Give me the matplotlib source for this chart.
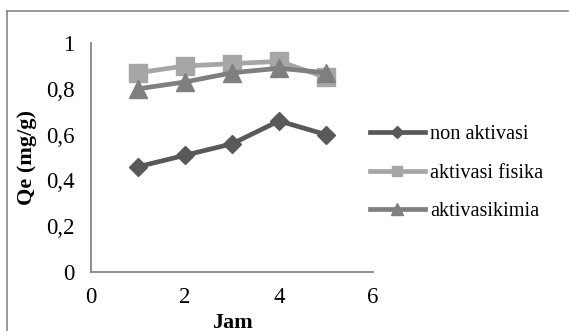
import matplotlib
matplotlib.use('Agg')
import matplotlib.pyplot as plt
from matplotlib.lines import Line2D
from matplotlib.ticker import FuncFormatter

jam = [1, 2, 3, 4, 5]
non_aktivasi = [0.46, 0.51, 0.56, 0.66, 0.60]
aktivasi_fisika = [0.87, 0.90, 0.91, 0.92, 0.85]
aktivasi_kimia = [0.80, 0.83, 0.87, 0.89, 0.87]

plt.rcParams['font.family'] = ['Liberation Serif', 'DejaVu Serif']

fig = plt.figure(figsize=(5.69, 3.31), dpi=100)
ax = fig.add_axes([0.160, 0.178, 0.4956, 0.692])

ax.plot(jam, non_aktivasi, color='#595959', lw=3.4, marker='D', ms=9.5,
        label='non aktivasi')
ax.plot(jam, aktivasi_fisika, color='#a6a6a6', lw=3.4, marker='s', ms=13,
        label='aktivasi fisika')
ax.plot(jam, aktivasi_kimia, color='#7f7f7f', lw=3.4, marker='^', ms=13.5,
        label='aktivasikimia')

ax.set_xlim(0, 6)
ax.set_ylim(0, 1)
ax.set_xticks([0, 2, 4, 6])
ax.set_yticks([0, 0.2, 0.4, 0.6, 0.8, 1])
fmt = FuncFormatter(lambda v, p: ('%g' % round(v, 1)).replace('.', ','))
ax.yaxis.set_major_formatter(fmt)
ax.tick_params(length=0, labelsize=16.5, colors='black')
ax.tick_params(axis='y', pad=12)
ax.tick_params(axis='x', pad=11)

for s in ['top', 'right']:
    ax.spines[s].set_visible(False)
for s in ['left', 'bottom']:
    ax.spines[s].set_color('#868686')
    ax.spines[s].set_linewidth(1.3)

ax.set_xlabel('Jam', fontsize=16, fontweight='bold', labelpad=3)
ax.set_ylabel('Qe (mg/g)', fontsize=16, fontweight='bold', labelpad=6)

fig.legend(*ax.get_legend_handles_labels(), loc='center left',
           bbox_to_anchor=(370 / 569, 1 - 173 / 331), frameon=False,
           fontsize=14.6, handlelength=2.7, handletextpad=0.25,
           labelspacing=0.95, borderpad=0, borderaxespad=0, markerscale=0.6)

# chart area border (top and left)
fig.add_artist(Line2D([7 / 569, 568 / 569], [1 - 11 / 331, 1 - 11 / 331],
                      transform=fig.transFigure, color='#868686', lw=1.2))
fig.add_artist(Line2D([7 / 569, 7 / 569], [1 - 11 / 331, 0],
                      transform=fig.transFigure, color='#868686', lw=1.2))

fig.savefig('out.png', dpi=100)
